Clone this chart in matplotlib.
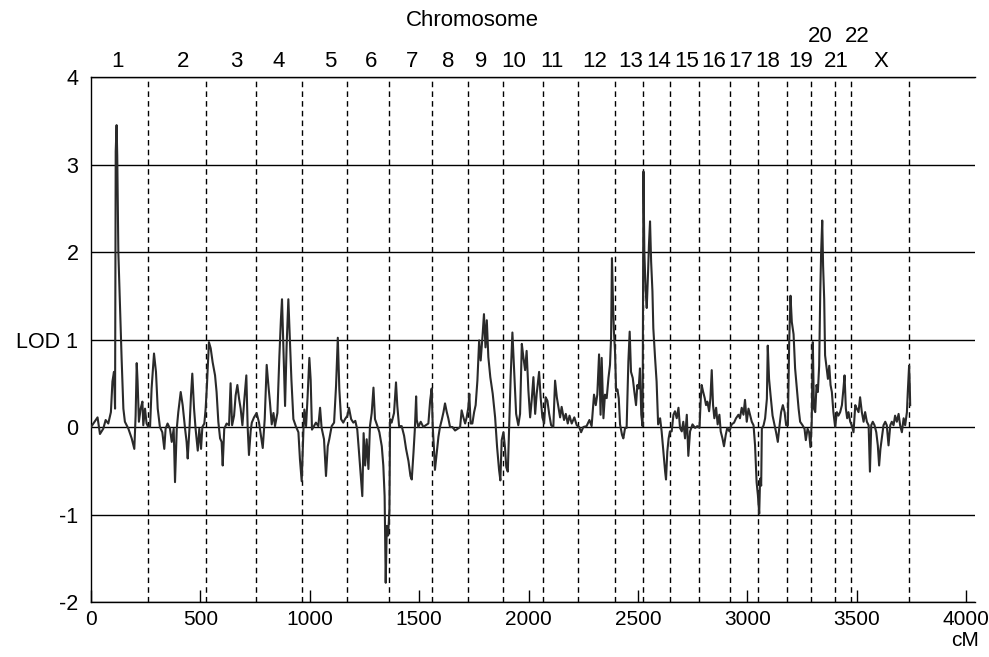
import matplotlib
matplotlib.use("Agg")
import matplotlib.pyplot as plt

plt.rcParams['font.family'] = ['Liberation Sans', 'DejaVu Sans']

# LOD score along the genome (cM)
cm = [0, 30, 41, 56, 67, 79, 91, 98, 105, 110, 113, 117, 120, 125, 133, 140, 148, 155, 171, 186,
      198, 204, 209, 213, 219, 227, 235, 239, 247, 254, 262,
      270, 277, 288, 297, 305, 315, 326, 335, 341, 350, 361, 369, 378, 384, 392, 399, 410, 419, 430,
      437, 442, 450, 457, 463, 471, 478, 488, 495, 503, 509, 518, 524, 530, 539, 547, 556, 567, 574,
      582, 590, 597, 602, 609, 620, 631, 638, 645, 654, 661, 669, 677, 684, 692, 701, 710, 716, 722, 730,
      735, 745, 757, 768, 777, 785, 794, 803, 811, 818, 826, 834, 841, 852, 861, 868, 873, 879, 887,
      894, 902, 907, 916, 925, 936, 948, 955, 963, 971, 975, 983, 990, 998, 1004, 1010, 1019, 1028,
      1039, 1047, 1054, 1065, 1074, 1082, 1089, 1100, 1111, 1120, 1128, 1135, 1143, 1153, 1161, 1172,
      1179, 1189, 1199, 1208, 1217, 1225, 1234, 1240, 1246, 1253, 1260, 1268, 1275, 1283, 1291, 1298,
      1309, 1318, 1329, 1336, 1342, 1347, 1352, 1358, 1364, 1367, 1374, 1385, 1394, 1400, 1408, 1420,
      1431, 1440, 1451, 1460, 1466, 1474, 1480, 1486,
      1489, 1496, 1507, 1519, 1530, 1542, 1550, 1557, 1562, 1568, 1572, 1580, 1588, 1595, 1603, 1611,
      1618, 1626, 1633, 1641, 1652, 1664, 1676, 1687, 1694, 1702, 1710, 1717, 1725, 1729, 1735, 1743,
      1751, 1758, 1766, 1774, 1781, 1790, 1796, 1803, 1809, 1816, 1825, 1836, 1847, 1856, 1865, 1871,
      1877, 1885, 1892, 1898, 1905, 1911, 1918, 1926, 1934, 1943, 1953, 1961, 1969, 1976, 1984, 1991,
      1999, 2007, 2014, 2022, 2030, 2037, 2048, 2055, 2063, 2071, 2078, 2086, 2094, 2103, 2113, 2121,
      2129, 2136, 2144, 2151, 2162, 2170, 2179, 2187, 2197, 2209, 2220, 2231, 2240, 2250,
      2265, 2278, 2288, 2299, 2307, 2314, 2322, 2329, 2334, 2342, 2349, 2357, 2365, 2372, 2377, 2381,
      2386, 2390, 2395, 2400, 2406, 2412, 2418, 2427, 2433, 2441, 2448, 2456, 2462, 2468, 2476, 2483,
      2491, 2497, 2503, 2509, 2515, 2521, 2525, 2529, 2535, 2540, 2546, 2550, 2555, 2560, 2566, 2570,
      2578, 2585, 2592, 2601, 2608, 2616, 2624, 2628, 2634, 2640, 2646, 2654, 2662, 2669, 2677, 2685,
      2692, 2700, 2707, 2715, 2723, 2730, 2738, 2749, 2761, 2771, 2781, 2787, 2791, 2797, 2805, 2811,
      2817, 2825, 2831, 2837, 2843, 2849, 2857, 2864, 2872, 2878, 2886, 2893, 2901, 2908, 2918, 2928,
      2939, 2948, 2959, 2966, 2974, 2982, 2989,
      2997, 3005, 3013, 3020, 3028, 3035, 3042, 3048, 3054, 3058, 3063, 3066, 3074, 3081, 3089, 3093,
      3099, 3106, 3115, 3124, 3131, 3139, 3147, 3154, 3162, 3170, 3177, 3185, 3191, 3197, 3203, 3211,
      3218, 3226, 3234, 3241, 3252, 3261, 3267, 3275, 3282, 3288, 3294, 3299, 3304, 3310, 3316, 3322,
      3328, 3333, 3337, 3342, 3346, 3351, 3355, 3361, 3368, 3374, 3380, 3386, 3393, 3401, 3409, 3416,
      3424, 3432, 3439, 3444, 3450, 3456, 3462, 3470, 3477, 3485, 3493, 3500, 3508, 3515, 3523, 3531,
      3538, 3546, 3554, 3560, 3566, 3573, 3581, 3589, 3596, 3602, 3608, 3614, 3622, 3630, 3637, 3645,
      3653, 3660, 3668, 3675, 3683, 3691, 3698, 3706, 3714, 3721, 3729, 3733, 3739, 3742, 3744]

lod = [0.00, 0.11, -0.08, -0.02, 0.08, 0.04, 0.17, 0.52, 0.63, 0.21, 3.15, 3.45, 3.10, 2.00, 1.35, 0.78, 0.21, 0.06, -0.02, -0.13,
       -0.25, 0.13, 0.73, 0.52, 0.06, 0.21, 0.29, 0.02, 0.21, 0.04, 0.00,
       0.00, 0.44, 0.84, 0.63, 0.21, 0.00, -0.06, -0.25, -0.02, 0.04, -0.02, -0.17, -0.02, -0.63, -0.02, 0.17, 0.40, 0.25, -0.02,
       -0.17, -0.36, -0.02, 0.36, 0.61, 0.21, -0.02, -0.27, -0.02, -0.25, 0.00, 0.04, 0.21, 0.48, 0.97, 0.90, 0.74, 0.59, 0.40,
       0.06, -0.13, -0.17, -0.44, -0.02, 0.04, 0.02, 0.50, 0.02, 0.13, 0.36, 0.48, 0.32, 0.21, 0.02, 0.32, 0.59, 0.00, -0.32, -0.04,
       0.05, 0.11, 0.16, 0.05, -0.10, -0.24, 0.09, 0.71, 0.47, 0.28, 0.03, 0.16, 0.01, 0.16, 0.81, 1.23, 1.46, 0.92, 0.24,
       0.92, 1.46, 1.12, 0.54, 0.09, 0.01, -0.06, -0.37, -0.62, -0.03, 0.20, 0.01, 0.35, 0.79, 0.54, -0.03, 0.01, 0.05,
       0.01, 0.22, -0.01, -0.14, -0.56, -0.22, -0.14, 0.01, 0.05, 0.47, 1.02, 0.43, 0.09, 0.05, 0.09, 0.13,
       0.22, 0.09, 0.05, 0.07, -0.03, -0.29, -0.60, -0.79, -0.07, -0.44, -0.14, -0.48, 0.01, 0.16, 0.45, 0.09,
       0.01, -0.06, -0.22, -0.44, -0.79, -1.78, -1.13, -1.24, -0.94, 0.09, 0.05, 0.16, 0.51, 0.24, 0.01, 0.01,
       -0.10, -0.25, -0.39, -0.56, -0.60, -0.29, -0.03, 0.35,
       0.08, 0.00, 0.06, 0.00, 0.02, 0.04, 0.30, 0.44, 0.00, -0.27, -0.49, -0.30, -0.11, 0.00, 0.08, 0.17,
       0.27, 0.17, 0.10, 0.00, 0.00, -0.04, -0.02, 0.00, 0.19, 0.11, 0.04, 0.11, 0.23, 0.38, 0.04, 0.04,
       0.17, 0.25, 0.53, 0.99, 0.76, 1.06, 1.29, 0.91, 1.22, 0.80, 0.57, 0.38, 0.11, -0.23, -0.49, -0.61,
       -0.15, -0.06, -0.23, -0.46, -0.51, 0.00, 0.57, 1.08, 0.65, 0.15, 0.02, 0.15, 0.95, 0.80, 0.65, 0.87,
       0.42, 0.11, 0.30, 0.57, 0.15, 0.38, 0.63, 0.34, 0.11, 0.04, 0.34, 0.30, 0.15, 0.02, 0.00, 0.53,
       0.34, 0.23, 0.11, 0.23, 0.08, 0.15, 0.04, 0.13, 0.04, 0.11, 0.02, 0.00, -0.06, 0.00,
       0.01, 0.08, 0.01, 0.37, 0.25, 0.37, 0.83, 0.14, 0.79, 0.10, 0.37, 0.33, 0.56, 0.71, 1.02, 1.93,
       1.40, 1.09, 0.86, 0.41, 0.43, 0.33, 0.03, -0.09, -0.13, -0.01, -0.01, 0.75, 1.09, 0.63, 0.56, 0.41,
       0.25, 0.48, 0.44, 0.67, 0.14, 0.01, 2.92, 2.00, 1.55, 1.36, 1.77, 2.08, 2.35, 1.89, 1.55, 1.13,
       0.79, 0.52, 0.03, 0.10, -0.05, -0.28, -0.51, -0.60, -0.28, -0.13, -0.05, -0.05, 0.14, 0.18, 0.10, 0.22,
       -0.01, -0.05, 0.06, -0.13, 0.14, -0.33, -0.05, 0.03, -0.01, 0.01, -0.01, 0.33, 0.48, 0.41, 0.33, 0.25,
       0.29, 0.18, 0.33, 0.65, 0.25, 0.10, 0.22, 0.03, 0.14, -0.05, -0.13, -0.22, -0.09, -0.01, -0.05, 0.03,
       0.05, 0.10, 0.14, 0.10, 0.22, 0.14, 0.31,
       0.06, 0.21, 0.13, 0.06, 0.02, -0.21, -0.63, -0.78, -0.99, -0.59, -0.67, -0.02, 0.02, 0.10, 0.32, 0.93,
       0.55, 0.36, 0.13, 0.02, -0.06, -0.17, 0.02, 0.17, 0.25, 0.17, 0.02, 0.02, 0.97, 1.50, 1.20, 1.06,
       0.67, 0.44, 0.21, 0.06, 0.02, -0.02, -0.15, -0.02, -0.06, -0.23, 0.06, 0.97, 0.21, 0.17, 0.48, 0.40,
       0.70, 1.54, 2.00, 2.36, 1.84, 1.46, 0.82, 0.70, 0.55, 0.70, 0.48, 0.40, 0.17, 0.00, 0.17, 0.13,
       0.17, 0.25, 0.44, 0.59, 0.21, 0.10, 0.17, 0.06, 0.02, -0.06, 0.25, 0.21, 0.17, 0.34, 0.17, 0.06,
       0.17, 0.06, 0.02, -0.51, 0.02, 0.06, 0.02, -0.06, -0.21, -0.44, -0.25, -0.13, 0.02, 0.06, 0.02, -0.21,
       0.02, 0.06, 0.02, 0.13, 0.06, 0.15, 0.02, -0.06, 0.10, 0.02, 0.17, 0.40, 0.70, 0.48, 0.25]

# chromosome boundaries (cM) and label positions
boundaries = [260, 527, 754, 963, 1169, 1364, 1557, 1725, 1881, 2067, 2224,
              2397, 2524, 2645, 2780, 2919, 3050, 3180, 3289, 3400, 3474, 3738]
chrom_names = ['1', '2', '3', '4', '5', '6', '7', '8', '9', '10', '11', '12',
               '13', '14', '15', '16', '17', '18', '19', '20', '21', '22', 'X']
chrom_pos = [123, 420, 663, 859, 1093, 1280, 1467, 1632, 1783, 1934, 2107, 2304,
             2468, 2596, 2724, 2848, 2971, 3095, 3245, 3332, 3405, 3502, 3611]
raised = ['20', '22']

y_ticks = [-2, -1, 0, 1, 2, 3, 4]
y_labels = ['-2', '-1', '0', 'LOD 1', '2', '3', '4']
x_ticks = [0, 500, 1000, 1500, 2000, 2500, 3000, 3500, 4000]

fig = plt.figure(figsize=(9.89, 6.57), dpi=100)
ax = fig.add_axes([0.092, 0.0837, 0.8938, 0.7991])

for y in y_ticks:
    ax.axhline(y, color='black', lw=1.0, zorder=1)
for b in boundaries:
    ax.axvline(b, color='black', lw=1.0, ls=(0, (4, 3)), zorder=1)

ax.plot(cm, lod, color='#2a2a2a', lw=1.5, zorder=3)

ax.set_xlim(0, 4040)
ax.set_ylim(-2, 4)
ax.set_yticks(y_ticks)
ax.set_yticklabels(y_labels)
ax.set_xticks(x_ticks)
ax.tick_params(axis='y', length=0, pad=9, labelsize=15.5)
ax.tick_params(axis='x', direction='in', length=9, width=1, pad=6, labelsize=15)
ax.spines['right'].set_visible(False)
for s in ['left', 'bottom', 'top']:
    ax.spines[s].set_linewidth(1.0)

trans = ax.get_xaxis_transform()
for name, pos in zip(chrom_names, chrom_pos):
    yy = 1.077 if name in raised else 1.03
    ax.text(pos, yy, name, transform=trans, ha='center', va='center', fontsize=16)

fig.text(0.478, 1 - 20 / 657, 'Chromosome', ha='center', va='center', fontsize=16)
fig.text(0.9757, 1 - 640 / 657, 'cM', ha='center', va='center', fontsize=15)

fig.savefig('out.png', dpi=100)
